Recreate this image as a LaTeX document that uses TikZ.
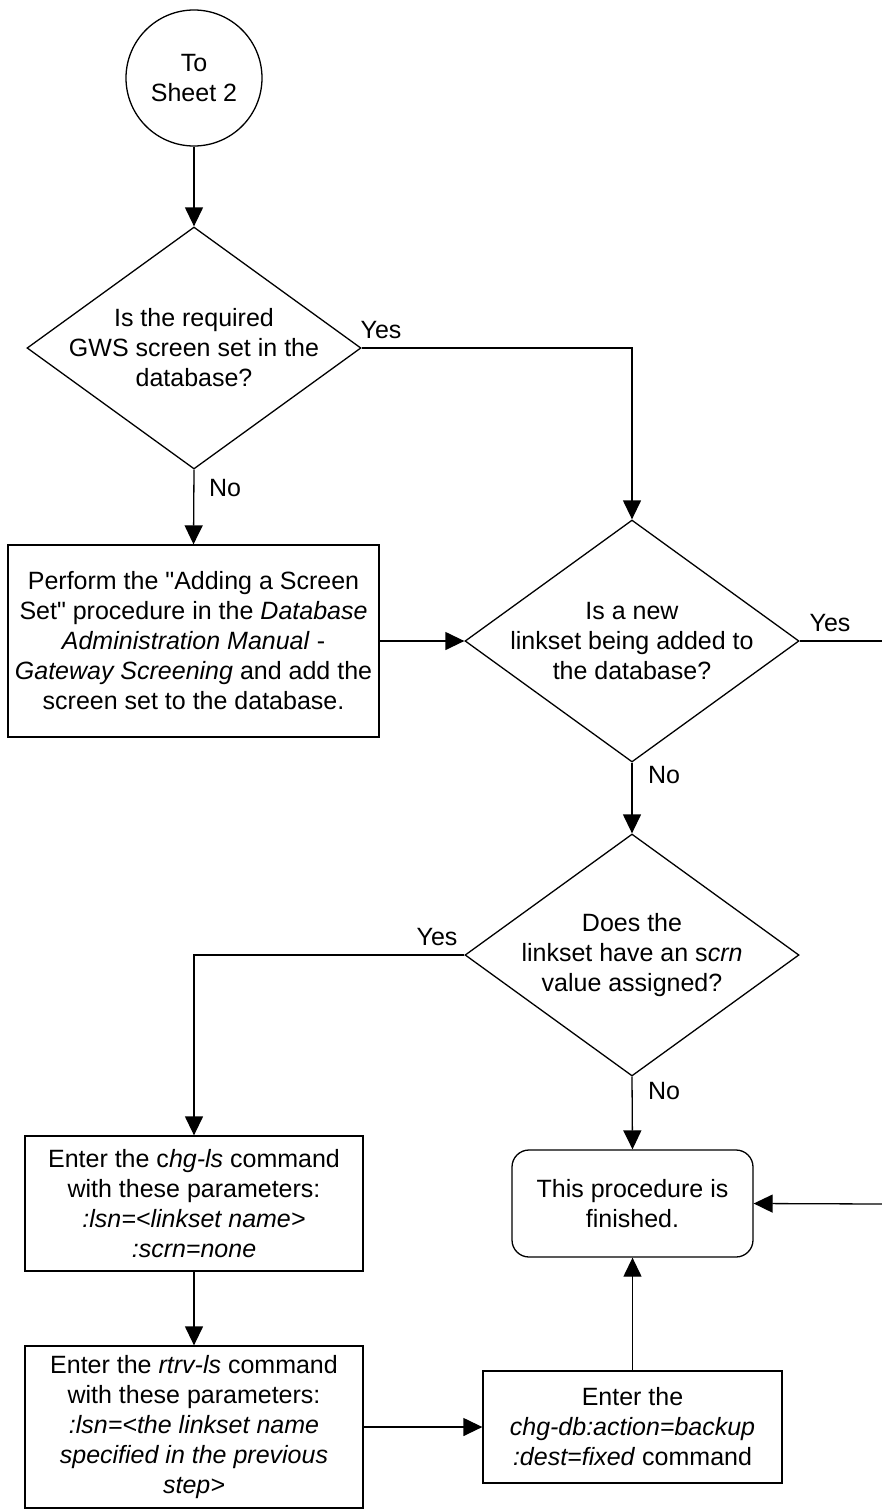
\documentclass[tikz,border=0pt]{standalone}
\usepackage{fontspec}
\setmainfont{Liberation Sans}
\usetikzlibrary{arrows.meta,shapes.geometric}
\tikzset{
  base/.style={font=\fontsize{25}{30}\selectfont, align=center},
  dec/.style={draw, shape=diamond, minimum width=334pt, minimum height=242pt, inner sep=0pt, line width=1.3pt},
  proc/.style={draw, rectangle, line width=1.3pt, base, inner sep=0pt},
  termbox/.style={proc, rounded corners=17pt},
  conn/.style={draw, circle, line width=1.3pt, base, minimum size=136pt, inner sep=0pt},
  arr/.style={-{Triangle[length=19pt,width=18pt]}, line width=1.3pt},
  ln/.style={line width=1.3pt},
  lbl/.style={base, inner sep=0pt},
}
\begin{document}
\begin{tikzpicture}[x=1pt,y=-1pt]
\path[use as bounding box] (0,0) rectangle (882,1510);

\node[conn] (circ) at (194,78) {To\\Sheet 2};

\node[dec] (d1) at (194,348) {};
\node[lbl] (d1t) at (194,348) {Is the required\\GWS screen set in the\\database?};

\node[dec] (d2) at (632,641) {};
\node[lbl] (d2t) at (632,641) {Is a new\\linkset being added to\\the database?};

\node[dec] (d3) at (632,955) {};
\node[lbl] (d3t) at (632,955) {Does the\\linkset have an s\textit{crn}\\value assigned?};

\node[proc, minimum width=371pt, minimum height=192pt] (b1) at (193.5,641)
  {Perform the \textquotedbl Adding a Screen\\Set\textquotedbl{} procedure in the \textit{Database}\\\textit{Administration Manual} -\\\textit{Gateway Screening} and add the\\screen set to the database.};

\node[proc, minimum width=338pt, minimum height=135pt] (chg) at (194,1203.5)
  {Enter the c\textit{hg-ls} command\\with these parameters:\\\textit{:lsn=<linkset name>}\\\textit{:scrn=none}};

\node[proc, minimum width=338pt, minimum height=162pt] (rtrv) at (194,1427)
  {Enter the \textit{rtrv-ls} command\\with these parameters:\\\textit{:lsn=<the linkset name}\\\textit{specified in the previous}\\\textit{step>}};

\node[termbox, minimum width=241pt, minimum height=107pt] (end) at (632.5,1203.5)
  {This procedure is\\finished.};

\node[proc, minimum width=299pt, minimum height=112pt] (db) at (632.5,1427)
  {Enter the\\\textit{chg-db:action=backup}\\\textit{:dest=fixed} command};

\coordinate (r1) at (882,641);
\coordinate (r2) at (882,1204);

\draw[arr] (circ.south) -- (d1.north);
\draw[arr] (d1.east) -| (d2.north);
\draw[arr] (d1.south) -- (b1.north);
\draw[arr] (b1.east) -- (d2.west);
\draw[ln] (d2.east) -- (r1);
\draw[arr] (d2.south) -- (d3.north);
\draw[arr] (d3.west) -| (chg.north);
\draw[arr] (d3.south) -- (end.north);
\draw[arr] (r2) -- (end.east);
\draw[arr] (chg.south) -- (rtrv.north);
\draw[arr] (rtrv.east) -- (db.west);
\draw[arr] (db.north) -- (end.south);

\node[lbl] (y1) at (381,330) {Yes};
\node[lbl] (y2) at (830,623) {Yes};
\node[lbl] (y3) at (437,937) {Yes};
\node[lbl] (n1) at (225,488) {No};
\node[lbl] (n2) at (664,775) {No};
\node[lbl] (n3) at (664,1091) {No};
\end{tikzpicture}
\end{document}
